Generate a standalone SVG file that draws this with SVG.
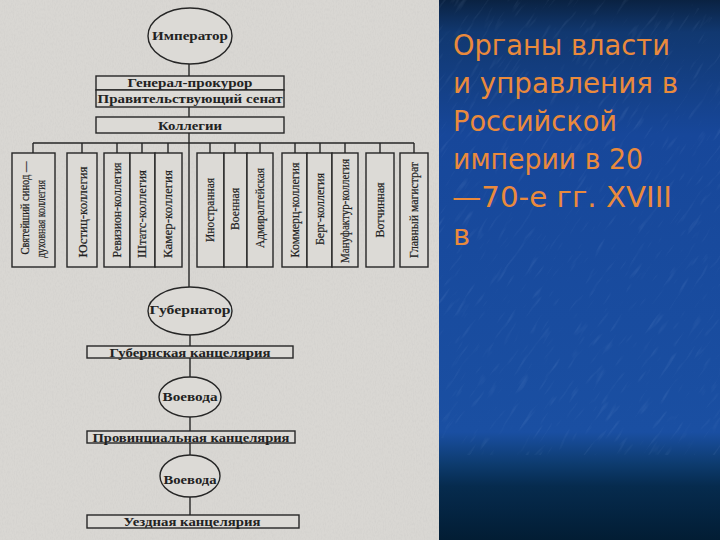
<svg xmlns="http://www.w3.org/2000/svg" width="720" height="540" viewBox="0 0 720 540">
  <defs>
    <linearGradient id="blue" x1="0" y1="0" x2="0" y2="1">
      <stop offset="0" stop-color="#0a2242"/>
      <stop offset="0.06" stop-color="#113870"/>
      <stop offset="0.25" stop-color="#17479a"/>
      <stop offset="0.8" stop-color="#1a4fa2"/>
      <stop offset="0.86" stop-color="#0d3b6e"/>
      <stop offset="0.9" stop-color="#062b4e"/>
      <stop offset="1" stop-color="#021d34"/>
    </linearGradient>
    <filter id="streaks" x="0" y="0" width="1" height="1">
      <feTurbulence type="fractalNoise" baseFrequency="0.25 0.04" numOctaves="2" seed="4" result="n"/>
      <feColorMatrix in="n" type="matrix" values="0 0 0 0 0.55  0 0 0 0 0.72  0 0 0 0 1  0 0 0 1.5 -0.9"/>
    </filter>
    <filter id="paper" x="0" y="0" width="1" height="1">
      <feTurbulence type="fractalNoise" baseFrequency="0.9 0.35" numOctaves="2" seed="2" result="n"/>
      <feColorMatrix in="n" type="matrix" values="0 0 0 0 0.4  0 0 0 0 0.4  0 0 0 0 0.4  0 0 0 0.9 -0.35"/>
    </filter>
    <clipPath id="blueclip"><rect x="439" y="0" width="281" height="455"/></clipPath>
    <style>
      .ln { stroke: #262626; stroke-width: 1.4; fill: none; }
      .bx { stroke: #262626; stroke-width: 1.4; fill: #dcdad6; }
      .lb { font-family: "Liberation Serif", "DejaVu Serif", serif; font-weight: bold; font-size: 12px; fill: #222; text-anchor: middle; }
      .el { font-size: 13px; }
      .vt { font-family: "Liberation Serif", "DejaVu Serif", serif; font-size: 13px; fill: #222; text-anchor: middle; stroke: #222; stroke-width: 0.2; }
      .tt { font-family: "DejaVu Sans", "Noto Sans", sans-serif; font-size: 29px; fill: #ea8a3c; }
    </style>
  </defs>

  <!-- backgrounds -->
  <rect x="439" y="0" width="281" height="540" fill="url(#blue)"/>
  <g clip-path="url(#blueclip)">
    <g transform="rotate(35 580 230)" opacity="0.22">
      <rect x="330" y="-20" width="500" height="500" filter="url(#streaks)"/>
    </g>
  </g>
  <rect x="0" y="0" width="439" height="540" fill="#d9d7d3"/>
  <rect x="0" y="0" width="439" height="540" filter="url(#paper)" opacity="0.25"/>

  <!-- connectors -->
  <g id="connectors">
    <line class="ln" x1="189" y1="64" x2="189" y2="76"/>
    <line class="ln" x1="189" y1="107" x2="189" y2="117"/>
    <line class="ln" x1="189" y1="133" x2="189" y2="287"/>
    <line class="ln" x1="33" y1="143" x2="414" y2="143"/>
    <path class="ln" d="M33 143V153M82 143V153M117 143V153M142 143V153M168 143V153M210 143V153M235 143V153M260 143V153M295 143V153M320 143V153M345 143V153M380 143V153M414 143V153"/>
    <line class="ln" x1="190" y1="335" x2="190" y2="346"/>
    <line class="ln" x1="190" y1="358" x2="190" y2="377"/>
    <line class="ln" x1="190" y1="417" x2="190" y2="431"/>
    <line class="ln" x1="190" y1="443" x2="190" y2="455"/>
    <line class="ln" x1="190" y1="497" x2="190" y2="515"/>
  </g>

  <g id="imperator">
    <ellipse class="bx" cx="190" cy="36" rx="42" ry="28"/>
    <text class="lb el" x="190" y="40" textLength="76" lengthAdjust="spacingAndGlyphs">Император</text>
  </g>
  <g id="genprokuror">
    <rect class="bx" x="96" y="76" width="188" height="14"/>
    <text class="lb" x="190" y="87" textLength="125" lengthAdjust="spacingAndGlyphs">Генерал-прокурор</text>
  </g>
  <g id="senat">
    <rect class="bx" x="96" y="90" width="188" height="17"/>
    <text class="lb" x="190" y="103" textLength="185" lengthAdjust="spacingAndGlyphs">Правительствующий сенат</text>
  </g>
  <g id="kollegii">
    <rect class="bx" x="96" y="117" width="188" height="16"/>
    <text class="lb" x="190" y="129.5" textLength="64" lengthAdjust="spacingAndGlyphs">Коллегии</text>
  </g>

  <g id="sinod">
    <rect class="bx" x="12" y="153" width="43" height="114"/>
    <text class="vt" transform="translate(29 208) rotate(-90)" textLength="93" lengthAdjust="spacingAndGlyphs">Святейший синод —</text>
    <text class="vt" transform="translate(45 219) rotate(-90)" textLength="78" lengthAdjust="spacingAndGlyphs">духовная коллегия</text>
  </g>
  <g id="justic">
    <rect class="bx" x="67" y="153" width="30" height="114"/>
    <text class="vt" transform="translate(87 212) rotate(-90)" textLength="91" lengthAdjust="spacingAndGlyphs">Юстиц-коллегия</text>
  </g>
  <g id="finance-group">
    <rect class="bx" x="104" y="153" width="26" height="114"/>
    <rect class="bx" x="130" y="153" width="25" height="114"/>
    <rect class="bx" x="155" y="153" width="27" height="114"/>
    <text class="vt" transform="translate(121 210) rotate(-90)" textLength="95" lengthAdjust="spacingAndGlyphs">Ревизион-коллегия</text>
    <text class="vt" transform="translate(146 214) rotate(-90)" textLength="88" lengthAdjust="spacingAndGlyphs">Штатс-коллегия</text>
    <text class="vt" transform="translate(172 214) rotate(-90)" textLength="88" lengthAdjust="spacingAndGlyphs">Камер-коллегия</text>
  </g>
  <g id="military-group">
    <rect class="bx" x="197" y="153" width="27" height="114"/>
    <rect class="bx" x="224" y="153" width="23" height="114"/>
    <rect class="bx" x="247" y="153" width="26" height="114"/>
    <text class="vt" transform="translate(214 210) rotate(-90)" textLength="64" lengthAdjust="spacingAndGlyphs">Иностранная</text>
    <text class="vt" transform="translate(239 209) rotate(-90)" textLength="42" lengthAdjust="spacingAndGlyphs">Военная</text>
    <text class="vt" transform="translate(264 208) rotate(-90)" textLength="80" lengthAdjust="spacingAndGlyphs">Адмиралтейская</text>
  </g>
  <g id="trade-group">
    <rect class="bx" x="282" y="153" width="25" height="114"/>
    <rect class="bx" x="307" y="153" width="25" height="114"/>
    <rect class="bx" x="332" y="153" width="26" height="114"/>
    <text class="vt" transform="translate(299 210) rotate(-90)" textLength="95" lengthAdjust="spacingAndGlyphs">Коммерц-коллегия</text>
    <text class="vt" transform="translate(324 209) rotate(-90)" textLength="72" lengthAdjust="spacingAndGlyphs">Берг-коллегия</text>
    <text class="vt" transform="translate(349 211) rotate(-90)" textLength="104" lengthAdjust="spacingAndGlyphs">Мануфактур-коллегия</text>
  </g>
  <g id="votchinnaya">
    <rect class="bx" x="366" y="153" width="28" height="114"/>
    <text class="vt" transform="translate(384 210) rotate(-90)" textLength="55" lengthAdjust="spacingAndGlyphs">Вотчинная</text>
  </g>
  <g id="magistrat">
    <rect class="bx" x="400" y="153" width="28" height="114"/>
    <text class="vt" transform="translate(418 210) rotate(-90)" textLength="96" lengthAdjust="spacingAndGlyphs">Главный магистрат</text>
  </g>

  <g id="gubernator">
    <ellipse class="bx" cx="190" cy="311" rx="42" ry="24"/>
    <text class="lb el" x="190" y="313.5" textLength="81" lengthAdjust="spacingAndGlyphs">Губернатор</text>
  </g>
  <g id="gub-kanc">
    <rect class="bx" x="87" y="346" width="206" height="12"/>
    <text class="lb" x="190" y="357" textLength="161" lengthAdjust="spacingAndGlyphs">Губернская канцелярия</text>
  </g>
  <g id="voevoda1">
    <ellipse class="bx" cx="190" cy="397" rx="31" ry="20"/>
    <text class="lb el" x="190" y="400.5" textLength="55" lengthAdjust="spacingAndGlyphs">Воевода</text>
  </g>
  <g id="prov-kanc">
    <rect class="bx" x="87" y="431" width="208" height="12"/>
    <text class="lb" x="191" y="441.5" textLength="197" lengthAdjust="spacingAndGlyphs">Провинциальная канцелярия</text>
  </g>
  <g id="voevoda2">
    <ellipse class="bx" cx="190" cy="476" rx="30" ry="21"/>
    <text class="lb el" x="190" y="483.5" textLength="53" lengthAdjust="spacingAndGlyphs">Воевода</text>
  </g>
  <g id="uezd-kanc">
    <rect class="bx" x="87" y="515" width="212" height="13"/>
    <text class="lb" x="192" y="525.5" textLength="137" lengthAdjust="spacingAndGlyphs">Уездная канцелярия</text>
  </g>

  <g id="title">
    <text class="tt" x="453" y="55" textLength="217" lengthAdjust="spacingAndGlyphs">Органы власти</text>
    <text class="tt" x="453" y="93" textLength="225" lengthAdjust="spacingAndGlyphs">и управления в</text>
    <text class="tt" x="453" y="131" textLength="164" lengthAdjust="spacingAndGlyphs">Российской</text>
    <text class="tt" x="453" y="169" textLength="190" lengthAdjust="spacingAndGlyphs">империи в 20</text>
    <text class="tt" x="452" y="207" textLength="220" lengthAdjust="spacingAndGlyphs">—70-е гг. XVIII</text>
    <text class="tt" x="453" y="245">в</text>
  </g>
</svg>
